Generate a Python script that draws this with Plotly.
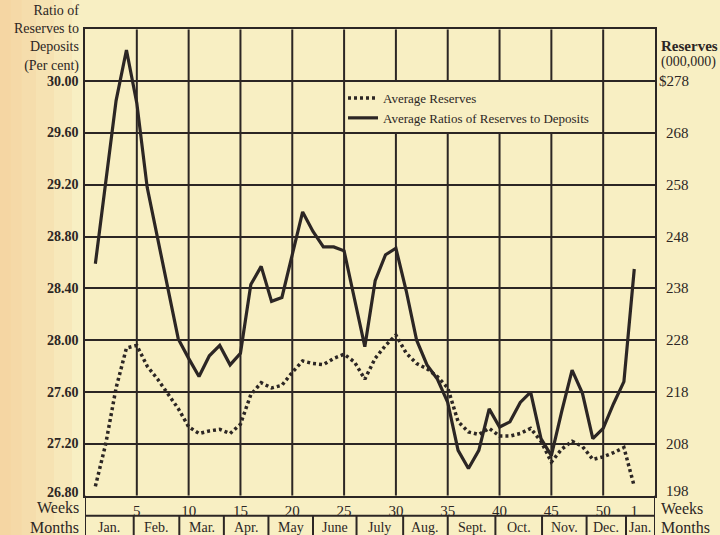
import plotly.graph_objects as go

# ---------------- data ----------------
weeks = list(range(1, 54))

ratio_pct = [28.59, 29.22, 29.85, 30.24, 29.83, 29.18, 28.78, 28.39, 28.01, 27.86,
             27.72, 27.88, 27.96, 27.81, 27.90, 28.43, 28.57, 28.30, 28.33, 28.66,
             28.99, 28.84, 28.72, 28.72, 28.69, 28.32, 27.95, 28.46, 28.66, 28.71,
             28.38, 28.00, 27.81, 27.70, 27.52, 27.15, 27.01, 27.15, 27.47, 27.33,
             27.37, 27.52, 27.60, 27.24, 27.11, 27.45, 27.77, 27.59, 27.24, 27.32,
             27.51, 27.68, 28.55]

reserves_mil = [199.8, 208.0, 218.8, 226.5, 227.0, 223.0, 220.5, 217.5, 214.8, 211.3,
                210.0, 210.5, 210.8, 210.0, 211.8, 217.5, 219.8, 218.8, 219.3, 221.8,
                224.0, 223.5, 223.3, 224.5, 225.3, 223.8, 220.5, 224.5, 227.0, 229.0,
                225.5, 223.5, 222.5, 221.0, 218.8, 212.3, 210.3, 209.8, 211.0, 209.5,
                209.5, 210.0, 211.0, 208.5, 204.5, 207.0, 208.5, 207.5, 205.0, 205.5,
                206.3, 207.3, 199.8]

ratio_ticks = [26.8, 27.2, 27.6, 28.0, 28.4, 28.8, 29.2, 29.6, 30.0]
ratio_tick_labels = ["26.80", "27.20", "27.60", "28.00", "28.40", "28.80", "29.20", "29.60", "30.00"]

reserve_ticks = [198, 208, 218, 228, 238, 248, 258, 268, 278]
reserve_tick_labels = ["198", "208", "218", "228", "238", "248", "258", "268", "$278"]

week_tick_vals = [5, 10, 15, 20, 25, 30, 35, 40, 45, 50, 53]
week_tick_labels = ["5", "10", "15", "20", "25", "30", "35", "40", "45", "50", "1"]
week_grid = [5, 10, 15, 20, 25, 30, 35, 40, 45, 50]

month_labels = ["Jan.", "Feb.", "Mar.", "Apr.", "May", "June", "July", "Aug.",
                "Sept.", "Oct.", "Nov.", "Dec.", "Jan."]
month_edges = [0, 4.7, 9.1, 13.4, 17.7, 22.0, 26.2, 30.7, 35.0, 39.6, 44.1, 48.4, 52.2, 55]

left_title = ["Ratio of", "Reserves to", "Deposits", "(Per cent)"]
right_title = ["Reserves", "(000,000)"]

# ---------------- styling / geometry ----------------
W, H = 720, 535
INK = "#2c2624"
BG = "#f8efc3"
SERIF = "Liberation Serif"
PX_L, PX_R, PX_T, PX_B = 85, 655, 29.3, 495.7
ROW1_B = 515.7   # bottom of weeks row


def pxx(p):
    return p / W


def pxy(p):
    return 1 - p / H


X_RANGE = [0, 55]
Y_RANGE = [26.8, 30.4]
Y2_RANGE = [198, 288]

fig = go.Figure()
fig.add_trace(go.Scatter(
    x=weeks, y=reserves_mil, yaxis="y2", mode="lines",
    name="Average Reserves",
    line=dict(color=INK, width=3.5, dash="3px,3px"),
    hoverinfo="x+y",
))
fig.add_trace(go.Scatter(
    x=weeks, y=ratio_pct, mode="lines",
    name="Average Ratios of Reserves to Deposits",
    line=dict(color=INK, width=3.2),
    hoverinfo="x+y",
))

shapes = []
# soft peach tint at the left edge of the page
for w in [0.10, 0.075, 0.05, 0.03, 0.015]:
    shapes.append(dict(type="rect", xref="paper", yref="paper", x0=0, x1=w, y0=0, y1=1,
                       fillcolor="#f3cf98", opacity=0.2, line=dict(width=0), layer="below"))

# vertical grid lines (interrupted inside the legend panel)
legend_wk = (25, 50)
legend_val = (29.6, 30.0)
for wk in week_grid:
    if legend_wk[0] < wk < legend_wk[1]:
        segs = [(Y_RANGE[0], legend_val[0]), (legend_val[1], Y_RANGE[1])]
    else:
        segs = [(Y_RANGE[0], Y_RANGE[1])]
    for a, b in segs:
        shapes.append(dict(type="line", xref="x", yref="y", x0=wk, x1=wk, y0=a, y1=b,
                           line=dict(color=INK, width=2), layer="below"))

# weeks / months rows below the chart
shapes.append(dict(type="line", xref="x", yref="paper", x0=0, x1=55,
                   y0=pxy(ROW1_B), y1=pxy(ROW1_B), line=dict(color=INK, width=2)))
for edge in [month_edges[0], month_edges[-1]]:
    shapes.append(dict(type="line", xref="x", yref="paper", x0=edge, x1=edge,
                       y0=0, y1=pxy(PX_B), line=dict(color=INK, width=2)))
for edge in month_edges[1:-1]:
    shapes.append(dict(type="line", xref="x", yref="paper", x0=edge, x1=edge,
                       y0=0, y1=pxy(ROW1_B), line=dict(color=INK, width=2)))

annotations = []
num_font = dict(family=SERIF, size=14, color=INK)
# left tick labels
for v, t in zip(ratio_ticks, ratio_tick_labels):
    annotations.append(dict(x=pxx(81), xref="paper", y=v, yref="y", text="<b>%s</b>" % t,
                            xanchor="right", yanchor="middle", showarrow=False,
                            font=num_font, yshift=3 if v == ratio_ticks[0] else 0))
# right tick labels
for v, t in zip(reserve_ticks, reserve_tick_labels):
    annotations.append(dict(x=pxx(691), xref="paper", y=v, yref="y2", text=t,
                            xanchor="right", yanchor="middle", showarrow=False,
                            font=dict(family=SERIF, size=15, color=INK),
                            yshift=(5 if v == reserve_ticks[0] else 0)))
# left title (one block, right aligned)
annotations.append(dict(x=pxx(81), xref="paper", y=pxy(1), yref="paper",
                        text="<br>".join(left_title), align="right",
                        xanchor="right", yanchor="top", showarrow=False,
                        font=dict(family=SERIF, size=14, color=INK)))
# right title
annotations.append(dict(x=pxx(659), xref="paper", y=pxy(46), yref="paper",
                        text="<b>%s</b>" % right_title[0], xanchor="left", yanchor="middle",
                        showarrow=False, font=dict(family=SERIF, size=15, color=INK)))
annotations.append(dict(x=pxx(659), xref="paper", y=pxy(62), yref="paper",
                        text=right_title[1], xanchor="left", yanchor="middle",
                        showarrow=False, font=dict(family=SERIF, size=14, color=INK)))
# row headers
row_font = dict(family=SERIF, size=16, color=INK)
annotations.append(dict(x=pxx(81), xref="paper", y=pxy(507), yref="paper", text="Weeks",
                        xanchor="right", yanchor="middle", showarrow=False, font=row_font))
annotations.append(dict(x=pxx(81), xref="paper", y=pxy(527), yref="paper", text="Months",
                        xanchor="right", yanchor="middle", showarrow=False, font=row_font))
annotations.append(dict(x=pxx(659), xref="paper", y=pxy(508), yref="paper", text="Weeks",
                        xanchor="left", yanchor="middle", showarrow=False, font=row_font))
annotations.append(dict(x=pxx(659), xref="paper", y=pxy(527), yref="paper", text="Months",
                        xanchor="left", yanchor="middle", showarrow=False, font=row_font))
# month names
for i, m in enumerate(month_labels):
    mid = (month_edges[i] + month_edges[i + 1]) / 2
    annotations.append(dict(x=mid, xref="x", y=pxy(527), yref="paper", text=m,
                            xanchor="center", yanchor="middle", showarrow=False,
                            font=dict(family=SERIF, size=14, color=INK)))

fig.update_layout(
    width=W, height=H,
    margin=dict(l=0, r=0, t=0, b=0),
    paper_bgcolor=BG, plot_bgcolor=BG,
    showlegend=True,
    legend=dict(x=pxx(343), y=pxy(83), xanchor="left", yanchor="top",
                bgcolor="rgba(0,0,0,0)", borderwidth=0,
                font=dict(family=SERIF, size=13, color=INK),
                itemwidth=30, tracegroupgap=0),
    xaxis=dict(domain=[pxx(PX_L), pxx(PX_R)], range=X_RANGE,
               showgrid=False, zeroline=False,
               showline=True, mirror=True, linecolor=INK, linewidth=2,
               tickmode="array", tickvals=week_tick_vals, ticktext=week_tick_labels,
               ticks="", tickfont=dict(family=SERIF, size=15, color=INK)),
    yaxis=dict(domain=[pxy(PX_B), pxy(PX_T)], range=Y_RANGE,
               tickmode="linear", tick0=26.8, dtick=0.4,
               showgrid=True, gridcolor=INK, gridwidth=2, zeroline=False,
               showticklabels=False, ticks="",
               showline=True, mirror=True, linecolor=INK, linewidth=2),
    yaxis2=dict(overlaying="y", side="right", range=Y2_RANGE,
                showgrid=False, zeroline=False, showticklabels=False, ticks=""),
    shapes=shapes,
    annotations=annotations,
)

fig.write_html("out.html", config={"displayModeBar": False},
               post_script="document.body.style.margin='0';document.body.style.overflow='hidden';")
